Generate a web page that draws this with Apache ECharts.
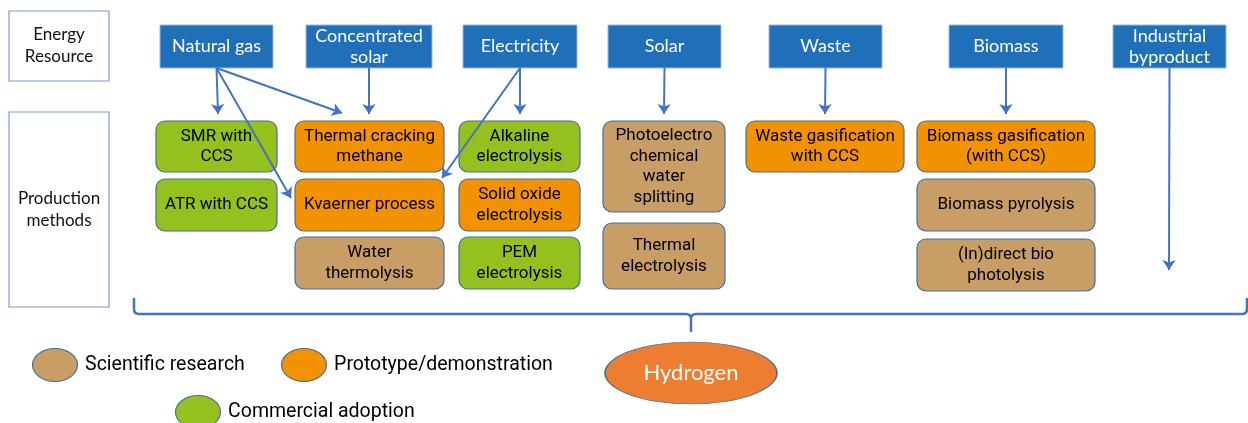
<!DOCTYPE html>
<html>
<head>
<meta charset="utf-8">
<title>Hydrogen production pathways</title>
<script src="https://cdn.jsdelivr.net/npm/echarts@6/dist/echarts.min.js"></script>
<style>
  html, body { margin: 0; padding: 0; background: #fff; }
  #chart { width: 1248px; height: 423px; }
</style>
</head>
<body>
<div id="chart"></div>
<script>
// row headers on the left
const headerLabels = ['Energy\nResource', 'Production\nmethods'];
const headerSpans = [[9, 109, 11, 81], [9, 109, 112, 307]];

// energy resources (top row), extents in diagram units
const resourceLabels = ['Natural gas', 'Concentrated\nsolar', 'Electricity', 'Solar', 'Waste', 'Biomass', 'Industrial\nbyproduct'];
const resourceLeft = [160, 306, 463, 608, 769, 949, 1113];
const resourceRight = [273, 432, 577, 721, 882, 1063, 1226];
const resourceTop = 25;
const resourceBottom = 68;

// production methods
const stageNames = ['Scientific research', 'Prototype/demonstration', 'Commercial adoption'];
const methodLabels = [
  'SMR with\nCCS', 'ATR with CCS',
  'Thermal cracking\nmethane', 'Kvaerner process', 'Water\nthermolysis',
  'Alkaline\nelectrolysis', 'Solid oxide\nelectrolysis', 'PEM\nelectrolysis',
  'Photoelectro\nchemical\nwater\nsplitting', 'Thermal\nelectrolysis',
  'Waste gasification\nwith CCS',
  'Biomass gasification\n(with CCS)', 'Biomass pyrolysis', '(In)direct bio\nphotolysis'
];
const methodStage = [2, 2, 1, 1, 0, 2, 1, 2, 0, 0, 1, 1, 0, 0];
const methodCol = [0, 0, 1, 1, 1, 2, 2, 2, 3, 3, 4, 5, 5, 5];
const methodTop = [121, 179, 121, 179, 237, 121, 179, 237, 121, 223, 121, 121, 179, 239];
const methodBottom = [172, 231, 172, 231, 289, 172, 231, 289, 212, 289, 172, 172, 231, 291];
const colLeft = [156, 295, 459, 603, 746, 917];
const colRight = [277, 444, 580, 725, 904, 1095];

// arrows: resource index -> arrow tip
const linkFrom = [0, 0, 0, 1, 2, 2, 3, 4, 5, 6];
const linkTo = [[218, 114], [342, 113], [291, 198], [369, 114], [520, 114], [442, 178], [664, 114], [825, 114], [1006, 114], [1169, 270]];

// brace gathering everything into hydrogen
const braceX = [134, 691, 1247];
const braceY = [298, 314, 332];

const hydrogen = [691, 373];
const legendPoints = [[55, 365], [304, 365], [198, 412]];

const stageColors = ['#C89D66', '#F39200', '#95C11F'];
const blue = '#1F70B8';
const arrowBlue = '#4472C4';

const chart = echarts.init(document.getElementById('chart'));

function boxSeries(name, data, labels, fills, opt) {
  return {
    name: name,
    type: 'custom',
    coordinateSystem: 'cartesian2d',
    clip: false,
    z: 2,
    data: data,
    renderItem: function (params, api) {
      const p0 = api.coord([api.value(0), api.value(2)]);
      const p1 = api.coord([api.value(1), api.value(3)]);
      const i = params.dataIndex;
      return {
        type: 'group',
        children: [{
          type: 'rect',
          shape: { x: p0[0], y: p0[1], width: p1[0] - p0[0], height: p1[1] - p0[1], r: opt.radius },
          style: { fill: fills[i], stroke: opt.stroke, lineWidth: opt.lineWidth }
        }, {
          type: 'text',
          x: (p0[0] + p1[0]) / 2,
          y: (p0[1] + p1[1]) / 2 + (opt.dy || 0),
          style: {
            text: labels[i],
            fill: opt.textColor,
            font: opt.font,
            align: 'center',
            verticalAlign: 'middle',
            lineHeight: opt.lineHeight
          }
        }]
      };
    }
  };
}

const headerData = headerSpans.map(s => s.slice());
const resourceData = resourceLabels.map((_, i) => [resourceLeft[i], resourceRight[i], resourceTop, resourceBottom]);
const methodData = methodLabels.map((_, i) => [colLeft[methodCol[i]], colRight[methodCol[i]], methodTop[i], methodBottom[i]]);

const linkData = linkFrom.map((r, i) => ({
  coords: [[(resourceLeft[r] + resourceRight[r]) / 2, resourceBottom], linkTo[i]]
}));

const ellipsePath = 'path://M0,50 A50,50 0 1,1 100,50 A50,50 0 1,1 0,50 Z';

const option = {
  animation: false,
  grid: { left: 0, right: 0, top: 0, bottom: 0 },
  xAxis: { type: 'value', min: 0, max: 1248, show: false },
  yAxis: { type: 'value', min: 0, max: 423, inverse: true, show: false },
  series: [
    boxSeries('headers', headerData, headerLabels, ['#fff', '#fff'], {
      radius: 0, stroke: '#7F9CD3', lineWidth: 1.2, textColor: '#111',
      font: '17px Lato', lineHeight: 22
    }),
    boxSeries('resources', resourceData, resourceLabels, resourceLabels.map(() => blue), {
      radius: 0, stroke: '#9DB6DE', lineWidth: 1, textColor: '#fff',
      font: '18px Lato', lineHeight: 21
    }),
    boxSeries('methods', methodData, methodLabels, methodStage.map(s => stageColors[s]), {
      radius: 9, stroke: '#41719C', lineWidth: 1.2, textColor: '#000',
      font: '17px Roboto', lineHeight: 20.5
    }),
    {
      name: 'arrows',
      type: 'lines',
      coordinateSystem: 'cartesian2d',
      z: 5,
      symbol: ['none', 'arrow'],
      symbolSize: 10,
      lineStyle: { color: arrowBlue, width: 2, opacity: 1, curveness: 0 },
      data: linkData
    },
    {
      name: 'brace',
      type: 'custom',
      coordinateSystem: 'cartesian2d',
      clip: false,
      z: 4,
      data: [[braceX[0], braceX[1], braceX[2], braceY[0], braceY[1], braceY[2]]],
      renderItem: function (params, api) {
        const c = (x, y) => api.coord([x, y]);
        const L = c(api.value(0), api.value(3));
        const Lc = c(api.value(0), api.value(4));
        const M = c(api.value(1), api.value(4));
        const Mt = c(api.value(1), api.value(5));
        const R = c(api.value(2), api.value(3));
        const Rc = c(api.value(2), api.value(4));
        const k = 5;
        const d = [
          'M', L[0], L[1],
          'L', Lc[0], Lc[1] - k,
          'Q', Lc[0], Lc[1], Lc[0] + k, Lc[1],
          'L', M[0] - k, M[1],
          'Q', M[0], M[1], M[0], M[1] + k,
          'L', Mt[0], Mt[1],
          'M', M[0], M[1] + k,
          'Q', M[0], M[1], M[0] + k, M[1],
          'L', Rc[0] - k, Rc[1],
          'Q', Rc[0], Rc[1], Rc[0], Rc[1] - k,
          'L', R[0], R[1]
        ].join(' ');
        return {
          type: 'path',
          shape: { pathData: d },
          style: { fill: 'none', stroke: arrowBlue, lineWidth: 2.5 }
        };
      }
    },
    {
      name: 'hydrogen',
      type: 'scatter',
      z: 3,
      symbol: ellipsePath,
      symbolSize: [172, 62],
      itemStyle: { color: '#ED7D31', borderColor: '#41719C', borderWidth: 1, opacity: 1 },
      label: {
        show: true, position: 'inside', formatter: 'Hydrogen',
        color: '#fff', fontFamily: 'Lato', fontSize: 22
      },
      data: [hydrogen]
    },
    {
      name: 'legend',
      type: 'scatter',
      z: 3,
      symbol: ellipsePath,
      symbolSize: [45, 33],
      itemStyle: {
        color: p => stageColors[p.dataIndex],
        borderColor: '#41719C', borderWidth: 1, opacity: 1
      },
      label: {
        show: true, position: 'right', distance: 7,
        formatter: p => stageNames[p.dataIndex],
        color: '#000', fontFamily: 'Roboto', fontSize: 19.5
      },
      data: legendPoints
    }
  ]
};

chart.setOption(option);
</script>
</body>
</html>
